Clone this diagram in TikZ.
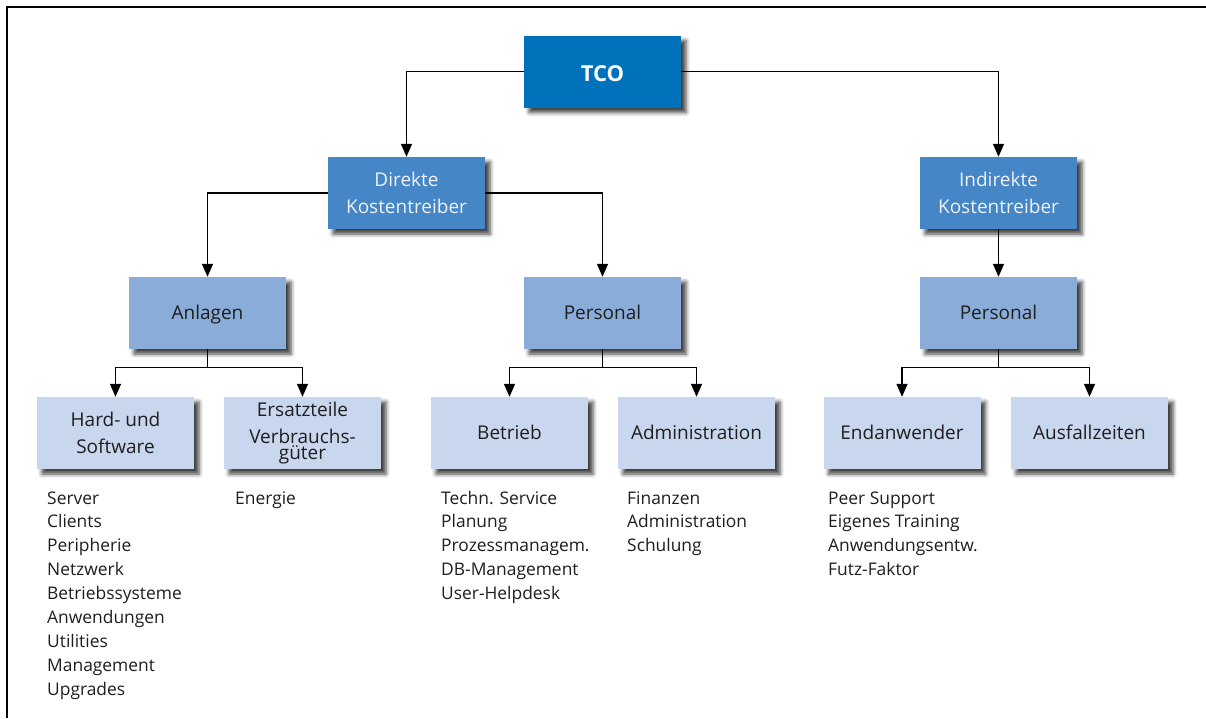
\documentclass[tikz,border=0pt]{standalone}
\usepackage{fontspec}
\setmainfont{Open Sans}
\usetikzlibrary{arrows.meta,shadows.blur}

\definecolor{tcoblue}{RGB}{0,114,187}
\definecolor{midblue}{RGB}{68,134,198}
\definecolor{lightblue}{RGB}{138,172,217}
\definecolor{paleblue}{RGB}{201,215,238}
\definecolor{textdark}{RGB}{30,30,30}
\definecolor{textlight}{RGB}{240,242,248}

% struts that keep one-line box labels centred on their capital height
\newcommand\boxstrut{\rule[-4.6pt]{0pt}{22.3pt}}
\newcommand\topstrut{\rule[-4.6pt]{0pt}{30pt}}

\tikzset{
  box/.style={rectangle, minimum width=157pt, minimum height=72pt, inner sep=0pt,
    align=center, text=textdark,
    font=\fontsize{19}{27}\selectfont,
    blur shadow={shadow xshift=5pt, shadow yshift=-5pt, shadow blur radius=4pt,
      shadow opacity=75}},
  oneline/.style={execute at begin node=\boxstrut},
  topbox/.style={box, fill=tcoblue, text=white, font=\fontsize{22}{27}\selectfont\bfseries,
    execute at begin node=\topstrut},
  cat/.style={box, fill=midblue, text=textlight},
  sub/.style={box, oneline, fill=lightblue},
  leaf/.style={box, fill=paleblue},
  items/.style={anchor=base west, inner sep=0pt, align=left, text=textdark,
    font=\fontsize{17.4}{23.9}\selectfont},
  conn/.style={line width=1.5pt, draw=black, -{Triangle[length=13pt,width=11pt]}},
  link/.style={line width=1.5pt, draw=black},
  frameline/.style={line width=1.2pt, draw=black}
}

\begin{document}
\begin{tikzpicture}[x=1pt, y=-1pt]
  \useasboundingbox (0,0) rectangle (1206,718);

  % frame: top and left edges only
  \coordinate (frameTR) at (1206,7);
  \coordinate (frameTL) at (7,7);
  \coordinate (frameBL) at (7,718);
  \draw[frameline] (frameTR) -- (frameTL) -- (frameBL);

  % boxes
  \node[topbox] (tco) at (602.5,71.5) {TCO};
  \node[cat] (dir) at (406.5,193) {Direkte\\Kostentreiber};
  \node[cat] (ind) at (998.5,193) {Indirekte\\Kostentreiber};

  \node[sub] (anl) at (207.5,313) {Anlagen};
  \node[sub] (per) at (602.5,313) {Personal};
  \node[sub] (per2) at (998.5,313) {Personal};

  \node[leaf] (hw) at (115.5,433) {Hard- und\\Software};
  \node[leaf] (ers) at (302.5,433) {Ersatzteile\\Verbrauchs-\\[-11pt]güter};
  \node[leaf, oneline] (bet) at (509.5,433) {Betrieb};
  \node[leaf, oneline] (adm) at (696.5,433) {Administration};
  \node[leaf, oneline] (enw) at (902,433) {Endanwender};
  \node[leaf, oneline] (aus) at (1089.5,433) {Ausfallzeiten};

  % connectors
  \draw[conn] (tco.west) -| (dir.north);
  \draw[conn] (tco.east) -| (ind.north);
  \draw[conn] (dir.west) -| (anl.north);
  \draw[conn] (dir.east) -| (per.north);
  \draw[conn] (ind.south) -- (per2.north);

  \draw[link] (anl.south) -- ++(0,18.5) coordinate (anlsplit);
  \draw[conn] (anlsplit) -| (hw.north);
  \draw[conn] (anlsplit) -| (ers.north);

  \draw[link] (per.south) -- ++(0,18.5) coordinate (persplit);
  \draw[conn] (persplit) -| (bet.north);
  \draw[conn] (persplit) -| (adm.north);

  \draw[link] (per2.south) -- ++(0,18.5) coordinate (per2split);
  \draw[conn] (per2split) -| (enw.north);
  \draw[conn] (per2split) -| (aus.north);

  % item lists (placed by the baseline of their last line)
  \node[items] (hwlist) at (47,695.2) {Server\\Clients\\Peripherie\\Netzwerk\\Betriebssysteme\\Anwendungen\\Utilities\\Management\\Upgrades};
  \node[items] (erslist) at (235,504) {Energie};
  \node[items] (betlist) at (441,599.6) {Techn. Service\\Planung\\Prozessmanagem.\\DB-Management\\User-Helpdesk};
  \node[items] (admlist) at (627,551.8) {Finanzen\\Administration\\Schulung};
  \node[items] (enwlist) at (828,575.7) {Peer Support\\Eigenes Training\\Anwendungsentw.\\Futz-Faktor};
\end{tikzpicture}
\end{document}
